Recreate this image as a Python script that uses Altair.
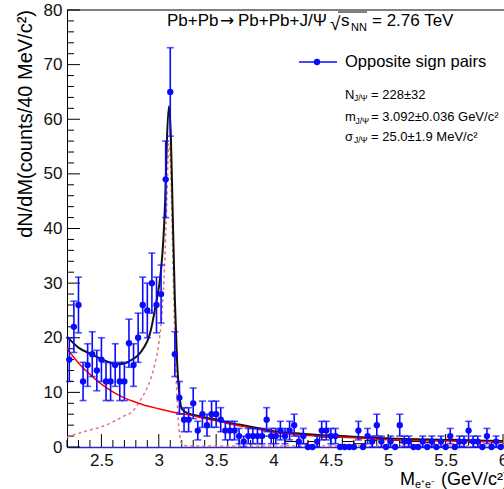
import altair as alt
import pandas as pd

# Opposite-sign e+e- pairs, 40 MeV/c^2 bins (bin centres, counts, stat. errors)
mass = [2.22, 2.26, 2.30, 2.34, 2.38, 2.42, 2.46, 2.50, 2.54, 2.58,
        2.62, 2.66, 2.70, 2.74, 2.78, 2.82, 2.86, 2.90, 2.94, 2.98,
        3.02, 3.06, 3.10, 3.14, 3.18, 3.22, 3.26, 3.30, 3.34, 3.38,
        3.42, 3.46, 3.50, 3.54, 3.58, 3.62, 3.66, 3.70, 3.74, 3.78,
        3.82, 3.86, 3.90, 3.94, 3.98, 4.02, 4.06, 4.10, 4.14, 4.18,
        4.22, 4.26, 4.30, 4.34, 4.38, 4.42, 4.46, 4.50, 4.54, 4.58,
        4.62, 4.66, 4.70, 4.74, 4.78, 4.82, 4.86, 4.90, 4.94, 4.98,
        5.02, 5.06, 5.10, 5.14, 5.18, 5.22, 5.26, 5.30, 5.34, 5.38,
        5.42, 5.46, 5.50, 5.54, 5.58, 5.62, 5.66, 5.70, 5.74, 5.78,
        5.82, 5.86, 5.90, 5.94, 5.98]
counts = [16, 22, 26, 12, 15, 17, 14, 16, 12, 12,
          15, 12, 12, 19, 15, 20, 26, 25, 30, 26,
          28, 49, 65, 17, 9, 5, 5, 8, 3, 6,
          4, 6, 6, 5, 3, 3, 3, 2, 1, 2,
          2, 2, 2, 5, 2, 2, 3, 2, 3, 4,
          1, 2, 0, 0, 1, 3, 3, 2, 2, 0,
          0, 0, 0, 3, 0, 2, 1, 4, 1, 0,
          1, 0, 4, 1, 1, 0, 0, 1, 0, 1,
          0, 1, 0, 2, 0, 1, 1, 3, 1, 1,
          0, 2, 0, 1, 0]
errors = [4.0, 4.7, 5.1, 3.5, 3.9, 4.1, 3.7, 4.0, 3.5, 3.5,
          3.9, 3.5, 3.5, 4.4, 3.9, 4.5, 5.1, 5.0, 5.5, 5.1,
          5.3, 7.0, 8.1, 4.1, 3.0, 2.2, 2.2, 2.8, 1.7, 2.4,
          2.0, 2.4, 2.4, 2.2, 1.7, 1.7, 1.7, 1.4, 1.0, 1.4,
          1.4, 1.4, 1.4, 2.2, 1.4, 1.4, 1.7, 1.4, 1.7, 2.0,
          1.0, 1.4, 0.0, 0.0, 1.0, 1.7, 1.7, 1.4, 1.4, 0.0,
          0.0, 0.0, 0.0, 1.7, 0.0, 1.4, 1.0, 2.0, 1.0, 0.0,
          1.0, 0.0, 2.0, 1.0, 1.0, 0.0, 0.0, 1.0, 0.0, 1.0,
          0.0, 1.0, 0.0, 1.4, 0.0, 1.0, 1.0, 1.7, 1.0, 1.0,
          0.0, 1.4, 0.0, 1.0, 0.0]

# Background fit (solid red)
bkg_mass = [2.2, 2.3, 2.4, 2.5, 2.6, 2.7, 2.8, 2.9, 3.0, 3.1, 3.2, 3.3, 3.4,
            3.5, 3.6, 3.7, 3.8, 3.9, 4.0, 4.2, 4.4, 4.6, 4.8, 5.0, 5.5, 6.0]
bkg_fit = [18.0, 15.4, 13.3, 11.5, 10.1, 9.0, 8.2, 7.5, 7.0, 6.5, 6.1, 5.7, 5.2,
           4.8, 4.3, 3.9, 3.5, 3.1, 2.7, 2.3, 2.0, 1.8, 1.55, 1.35, 1.1, 0.9]

# Signal shape (dashed) and total fit (solid black)
cb_mass = [2.2, 2.3, 2.4, 2.5, 2.6, 2.7, 2.77, 2.84, 2.91, 2.96, 3.0, 3.03,
           3.05, 3.07, 3.088, 3.105, 3.12, 3.14, 3.16, 3.18, 3.2, 3.25, 6.0]
cb_fit = [1.8, 2.5, 3.1, 3.7, 4.6, 5.7, 6.5, 8.6, 11.4, 14.7, 19.0, 25.0,
          33.0, 45.0, 55.5, 50.0, 37.0, 20.0, 8.5, 2.5, 0.6, 0.2, 0.2]
total_mass = [2.2, 2.3, 2.4, 2.5, 2.6, 2.65, 2.7, 2.75, 2.82, 2.87, 2.92, 2.97,
              3.02, 3.04, 3.056, 3.07, 3.088, 3.105, 3.12, 3.14, 3.16, 3.18,
              3.2, 3.25, 3.3, 3.4, 3.5, 3.6, 3.7, 3.8, 3.9, 4.0, 4.2, 4.4,
              4.6, 4.8, 5.0, 5.5, 6.0]
total_fit = [20.2, 18.2, 17.1, 16.1, 15.3, 15.2, 15.3, 15.8, 16.8, 18.2, 20.5, 25.6,
             32.5, 38.0, 45.3, 55.7, 62.4, 57.0, 44.0, 27.0, 15.5, 9.5,
             7.0, 6.2, 5.9, 5.4, 5.0, 4.5, 4.1, 3.7, 3.3, 2.9, 2.5, 2.2,
             2.0, 1.75, 1.55, 1.3, 1.1]

# Black step histogram at high mass
ls_edges = [3.9, 4.0, 4.1, 4.2, 4.3, 4.4, 4.5, 4.6, 4.7, 4.8, 4.9,
            5.0, 5.1, 5.2, 5.3, 5.4, 5.5, 5.6, 5.7, 5.8, 5.9, 6.0]
ls_counts = [2.0, 2.0, 1.0, 0.6, 1.0, 1.8, 1.8, 1.0, 0.6, 1.2, 1.6,
             1.2, 0.8, 1.0, 0.8, 1.2, 1.4, 1.0, 0.8, 1.0, 0.8, 0.8]

x_labels = [2.5, 3.0, 3.5, 4.0, 4.5, 5.0, 5.5, 6.0]
x_minor = [2.2, 2.3, 2.4, 2.6, 2.7, 2.8, 2.9, 3.1, 3.2, 3.3, 3.4, 3.6, 3.7,
           3.8, 3.9, 4.1, 4.2, 4.3, 4.4, 4.6, 4.7, 4.8, 4.9, 5.1, 5.2, 5.3,
           5.4, 5.6, 5.7, 5.8, 5.9]
y_labels = [0, 10, 20, 30, 40, 50, 60, 70, 80]
y_minor = [2, 4, 6, 8, 12, 14, 16, 18, 22, 24, 26, 28, 32, 34, 36, 38,
           42, 44, 46, 48, 52, 54, 56, 58, 62, 64, 66, 68, 72, 74, 76, 78]

W, H = 436, 437
FONT = "Liberation Sans"
BLUE = "#0a0aff"
xs = alt.Scale(domain=[2.2, 6.0], nice=False, zero=False)
ys = alt.Scale(domain=[0, 80], nice=False, zero=False)
x_axis = alt.Axis(values=x_labels, format="~g", ticks=False, grid=False, title=None,
                  labelFont=FONT, labelFontSize=17, labelColor="#111", labelPadding=5,
                  labelFlush=False, labelOverlap=False, domainColor="#2a2ad0",
                  domainWidth=1.5)
y_axis = alt.Axis(values=y_labels, ticks=False, grid=False, title=None,
                  labelFont=FONT, labelFontSize=17, labelColor="#111", labelPadding=5,
                  labelFlush=False, labelOverlap=False, domainColor="#000",
                  domainWidth=1)


def X(f):
    return alt.X(f, scale=xs, axis=x_axis)


def Y(f):
    return alt.Y(f, scale=ys, axis=y_axis)


pts = pd.DataFrame({"m": mass, "n": counts,
                    "lo": [c - e for c, e in zip(counts, errors)],
                    "hi": [c + e for c, e in zip(counts, errors)]})
one = pd.DataFrame({"k": [0]})


def curve(ms, vs, **style):
    return alt.Chart(pd.DataFrame({"m": ms, "v": vs})).mark_line(
        interpolate="monotone", **style).encode(x=X("m:Q"), y=Y("v:Q"))


def txt(s, x, y, size, font=FONT, **kw):
    return alt.Chart(one).mark_text(
        font=font, fontSize=size, color="black",
        align=kw.pop("align", "left"), baseline=kw.pop("baseline", "alphabetic"),
        **kw).encode(x=alt.value(x), y=alt.value(y), text=alt.value(s))


def ticks(vals, axis, length):
    d = alt.Chart(pd.DataFrame({"t": vals})).mark_rule(color="black", strokeWidth=1)
    if axis == "x":
        return d.encode(x=X("t:Q"), y=alt.value(H), y2=alt.value(H - length))
    return d.encode(y=Y("t:Q"), x=alt.value(0), x2=alt.value(length))


signal = curve(cb_mass, cb_fit, color="#e87575", strokeWidth=1.5, strokeDash=[3, 3])
total = curve(total_mass, total_fit, color="#111", strokeWidth=2)
background = curve(bkg_mass, bkg_fit, color="#ff0000", strokeWidth=1.5)
steps = alt.Chart(pd.DataFrame({"m": ls_edges, "v": ls_counts})).mark_line(
    interpolate="step-after", color="black", strokeWidth=1).encode(
    x=X("m:Q"), y=Y("v:Q"))

nonzero = alt.Chart(pts).transform_filter("datum.n > 0")
err_bars = nonzero.mark_rule(color=BLUE, strokeWidth=1.6).encode(
    x=X("m:Q"), y=Y("lo:Q"), y2="hi:Q")
cap_lo = nonzero.mark_tick(orient="horizontal", size=7, thickness=1.6, color=BLUE).encode(
    x=X("m:Q"), y=Y("lo:Q"))
cap_hi = nonzero.mark_tick(orient="horizontal", size=7, thickness=1.6, color=BLUE).encode(
    x=X("m:Q"), y=Y("hi:Q"))
points = alt.Chart(pts).mark_circle(size=40, color=BLUE, opacity=1).encode(
    x=X("m:Q"), y=Y("n:Q"))

frame_top = alt.Chart(one).mark_rule(color="black", strokeWidth=1).encode(
    x=alt.value(0), x2=alt.value(W + 2), y=alt.value(0))

# Legend entry
leg_line = alt.Chart(one).mark_rule(color=BLUE, strokeWidth=1.6).encode(
    x=alt.value(232), x2=alt.value(270), y=alt.value(52))
leg_dot = alt.Chart(one).mark_circle(size=40, color=BLUE, opacity=1).encode(
    x=alt.value(250), y=alt.value(52))

# Header: Pb+Pb -> Pb+Pb+J/psi, sqrt(s_NN) = 2.76 TeV
root_bar = alt.Chart(one).mark_rule(color="black", strokeWidth=1).encode(
    x=alt.value(271), x2=alt.value(300), y=alt.value(2))

layers = [
    ticks(x_minor, "x", 7), ticks(x_labels, "x", 13),
    ticks(y_minor, "y", 7), ticks(y_labels, "y", 13),
    frame_top, steps, signal, total, background,
    err_bars, cap_lo, cap_hi, points,
    leg_line, leg_dot,
    txt("Opposite sign pairs", 278, 56.5, 16.5),
    txt("Pb+Pb", 100, 16, 17),
    txt("\u2192", 153, 16, 17, font="DejaVu Sans"),
    txt("Pb+Pb+J/\u03a8", 171, 16, 17),
    txt("\u221a", 263, 20, 19),
    root_bar,
    txt("s", 274, 16, 17),
    txt("NN", 284, 20.5, 11),
    txt("= 2.76 TeV", 305, 16, 17),
    txt("N", 278, 88.5, 13),
    txt("J/\u03a8", 287, 91, 8.5),
    txt("= 228\u00b132", 304, 88.5, 13),
    txt("m", 278, 111, 13),
    txt("J/\u03a8", 288.5, 113.5, 8.5),
    txt("= 3.092\u00b10.036 GeV/c\u00b2", 304, 111, 13),
    txt("\u03c3", 278, 130.5, 13),
    txt("J/\u03a8", 287, 133, 8.5),
    txt("= 25.0\u00b11.9 MeV/c\u00b2", 304, 130.5, 13),
    txt("dN/dM(counts/40 MeV/c\u00b2)", -41, 0, 20, angle=270, align="right",
        baseline="middle"),
    txt("M", 333, 475, 18),
    txt("e\u207ae\u207b", 348, 478, 11),
    txt("(GeV/c\u00b2)", 374, 475, 18),
]

chart = alt.layer(*layers).properties(
    width=W, height=H,
    autosize=alt.AutoSizeParams(type="none"),
    padding={"left": 67, "top": 10, "right": 1, "bottom": 42},
    background="white",
).configure_view(stroke=None)

chart.save("out.html", embed_options={"renderer": "svg", "actions": False})
